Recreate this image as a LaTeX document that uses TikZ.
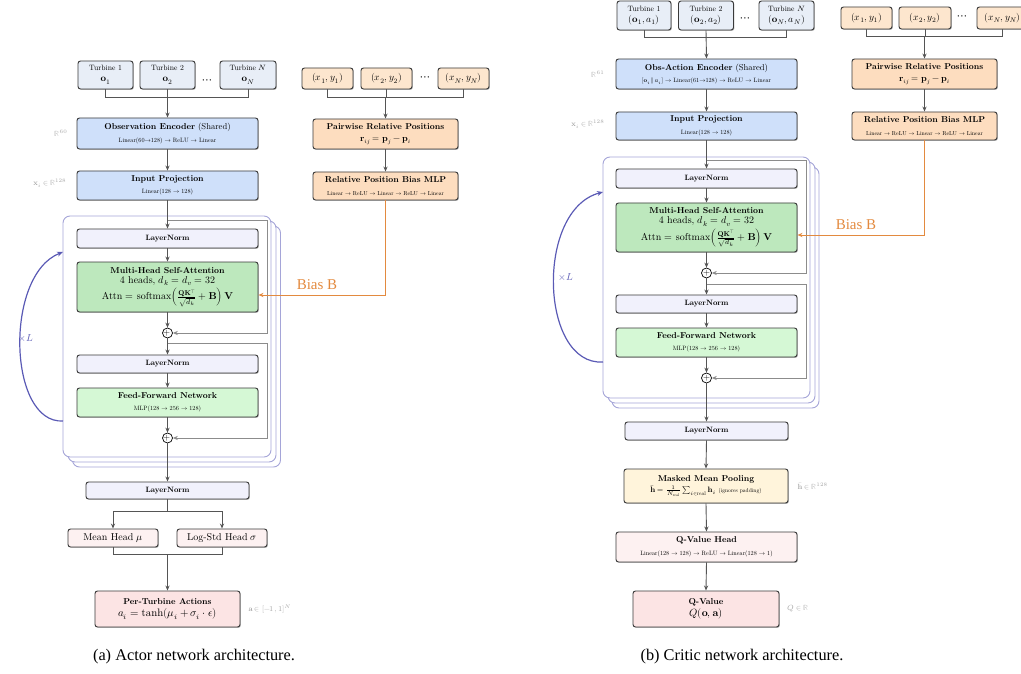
\documentclass[tikz,border=0pt]{standalone}
\usepackage{amsmath}
\usepackage{fontspec}
\usepackage{unicode-math}
\setmainfont{lmroman10-regular.otf}[BoldFont=lmroman10-bold.otf,
  ItalicFont=lmroman10-italic.otf, BoldItalicFont=lmroman10-bolditalic.otf]
\setmathfont{latinmodern-math.otf}
\newfontfamily\capfont{Liberation Serif}
\usetikzlibrary{arrows.meta,calc,shadows}

\definecolor{boxline}{HTML}{3A3A3A}
\definecolor{arrowgray}{HTML}{555555}
\definecolor{resgray}{HTML}{8C8C8C}
\definecolor{lblgray}{HTML}{A6A6A6}
\definecolor{turbfill}{HTML}{E8EEF7}
\definecolor{posfill}{HTML}{FDE6CE}
\definecolor{encfill}{HTML}{CFE0FA}
\definecolor{pairfill}{HTML}{FDDDBF}
\definecolor{lnfill}{HTML}{F1F1FC}
\definecolor{attfill}{HTML}{BDE8BD}
\definecolor{ffnfill}{HTML}{D5F8D5}
\definecolor{headfill}{HTML}{FDF1F1}
\definecolor{actfill}{HTML}{FCE4E4}
\definecolor{poolfill}{HTML}{FFF4DB}
\definecolor{framecol}{HTML}{A5A5D8}
\definecolor{loopcol}{HTML}{5A5AB5}
\definecolor{biascol}{HTML}{E38A3F}

\newcommand\fTitle{\fontsize{8.6}{10.5}\selectfont\bfseries}
\newcommand\fBody{\fontsize{10}{10.5}\selectfont}
\newcommand\fSub{\fontsize{6.2}{7}\selectfont}
\newcommand\fSubS{\fontsize{5.8}{7}\selectfont}
\newcommand\fNorm{\fontsize{7.7}{9}\selectfont\bfseries}
\newcommand\fTurb{\fontsize{7.7}{11}\selectfont}
\newcommand\fMath{\fontsize{9.6}{10}\selectfont}
\newcommand\fHead{\fontsize{10}{12}\selectfont}
\newcommand\fLbl{\fontsize{7.5}{9}\selectfont}

\begin{document}
\begin{tikzpicture}[x=1pt,y=-1pt,
  box/.style={draw=boxline, line width=0.95pt, rounded corners=2.5pt,
    inner sep=0pt, align=center, font=\fontsize{8.6}{10.5}\selectfont,
    drop shadow={shadow xshift=0.9pt, shadow yshift=-0.9pt, opacity=0.25, fill=black}},
  tbox/.style={box, fill=turbfill, minimum height=28pt, font=\fTurb},
  pbox/.style={box, fill=posfill, minimum width=51pt, minimum height=21pt, font=\fMath},
  wide/.style={minimum width=181pt},
  arr/.style={draw=arrowgray, line width=0.9pt, -{Stealth[length=5pt,width=4.2pt]}},
  link/.style={draw=arrowgray, line width=0.9pt},
  res/.style={draw=resgray, line width=0.9pt, -{Stealth[length=5pt,width=4.2pt]}},
  plus/.style={draw=black, line width=0.7pt, circle, fill=white, minimum size=10pt,
    inner sep=0pt, font=\fontsize{9}{9}\selectfont},
  stack/.style={draw=framecol, line width=0.9pt, rounded corners=7pt, fill=white},
  looparr/.style={draw=loopcol, line width=1.2pt, -{Stealth[length=6pt,width=5pt]}},
  looplbl/.style={text=loopcol, font=\fontsize{10}{10}\selectfont},
  bias/.style={draw=biascol, line width=0.9pt, -{Stealth[length=5pt,width=4.2pt]}},
  biaslbl/.style={text=biascol, font=\capfont\fontsize{15}{15}\selectfont},
  dim/.style={text=lblgray, font=\fLbl, inner sep=0pt},
  dots/.style={inner sep=0pt, font=\fontsize{12.5}{12.5}\selectfont},
  caption/.style={font=\capfont\fontsize{16.3}{19}\selectfont}
]
\useasboundingbox (0,0) rectangle (1021,674);
\clip (0,0) rectangle (1021,674);

%% ================= Actor =================
% stacked transformer blocks
\node[stack, minimum width=208pt, minimum height=241pt] (a-back2) at (176.5,346.5) {};
\node[stack, minimum width=208pt, minimum height=241pt] (a-back1) at (172,341.5) {};
\node[stack, minimum width=208pt, minimum height=241pt] (a-frame) at (167,336.5) {};

% per-turbine observations
\node[tbox, minimum width=55pt] (a-t1) at (105.5,75) {Turbine 1\\{\fMath$\mathbf{o}_1$}};
\node[tbox, minimum width=55pt] (a-t2) at (167.5,75) {Turbine 2\\{\fMath$\mathbf{o}_2$}};
\node[dots] (a-td) at (207.5,82) {$\cdots$};
\node[tbox, minimum width=56pt] (a-tN) at (248,75) {Turbine $N$\\{\fMath$\mathbf{o}_N$}};

% turbine positions
\node[pbox] (a-p1) at (327.5,78.5) {$(x_1,y_1)$};
\node[pbox] (a-p2) at (386.5,78.5) {$(x_2,y_2)$};
\node[dots] (a-pd) at (425,78.5) {$\cdots$};
\node[pbox] (a-pN) at (463.5,78.5) {$(x_N,y_N)$};

% main column
\node[box, wide, fill=encfill, minimum height=31pt] (a-enc) at (167.5,133.5)
  {{\fTitle Observation Encoder} (Shared)\\[2pt]{\fSub Linear(60$\to$128) $\to$ ReLU $\to$ Linear}};
\node[box, wide, fill=encfill, minimum height=29pt] (a-proj) at (167.5,185.5)
  {{\fTitle Input Projection}\\[2pt]{\fSub Linear(128 $\to$ 128)}};
\node[box, wide, fill=lnfill, minimum height=19pt] (a-ln1) at (167.5,238.5) {\fNorm LayerNorm};
\node[box, wide, fill=attfill, minimum height=50pt] (a-att) at (167.5,287)
  {{\fTitle Multi-Head Self-Attention}\\[-0.5pt]
   {\fBody 4 heads, $d_k = d_v = 32$}\\[1.5pt]
   {\fBody Attn $=$ softmax$\Bigl(\frac{\mathbf{Q}\mathbf{K}^{\top}}{\sqrt{d_k}} + \mathbf{B}\Bigr)\,\mathbf{V}$}};
\node[plus] (a-add1) at (167.5,333) {$+$};
\node[box, wide, fill=lnfill, minimum height=18pt] (a-ln2) at (167.5,364) {\fNorm LayerNorm};
\node[box, wide, fill=ffnfill, minimum height=29pt] (a-ffn) at (167.5,402.5)
  {{\fTitle Feed-Forward Network}\\[2pt]{\fSub MLP(128 $\to$ 256 $\to$ 128)}};
\node[plus] (a-add2) at (167.5,438) {$+$};
\node[box, fill=lnfill, minimum width=163pt, minimum height=17pt] (a-lnf) at (167.5,490.5) {\fNorm LayerNorm};
\node[box, fill=headfill, minimum width=90pt, minimum height=18pt, font=\fHead] (a-mean) at (113,538) {Mean Head $\mu$};
\node[box, fill=headfill, minimum width=90pt, minimum height=18pt, font=\fHead] (a-lstd) at (222,538) {Log-Std Head $\sigma$};
\node[box, fill=actfill, minimum width=145pt, minimum height=36pt] (a-act) at (167.5,609)
  {{\fTitle Per-Turbine Actions}\\[1.5pt]{\fontsize{10.8}{11}\selectfont $a_i = \tanh(\mu_i + \sigma_i \cdot \epsilon)$}};

% positional bias branch
\node[box, fill=pairfill, minimum width=145pt, minimum height=30pt] (a-pair) at (385.5,134)
  {{\fTitle Pairwise Relative Positions}\\[1.5pt]{\fontsize{9}{9}\selectfont $\mathbf{r}_{ij} = \mathbf{p}_j - \mathbf{p}_i$}};
\node[box, fill=pairfill, minimum width=145pt, minimum height=28pt] (a-rpb) at (385.5,186)
  {{\fTitle Relative Position Bias MLP}\\[2pt]{\fSubS Linear $\to$ ReLU $\to$ Linear $\to$ ReLU $\to$ Linear}};

% dimension annotations
\node[dim, anchor=east] (a-d1) at ([xshift=-9pt]a-enc.west) {$\mathbb{R}^{60}$};
\node[dim, anchor=east] (a-d2) at ([xshift=-10pt,yshift=2pt]a-proj.west) {$\mathbf{x}_i \in \mathbb{R}^{128}$};
\node[dim, anchor=west] (a-d3) at ([xshift=8pt]a-act.east) {$\mathbf{a} \in [-1,1]^N$};

% connectors
\draw[link] (a-t1.south) -- ++(0,8) -| (a-tN.south);
\draw[arr] (a-t2.south) -- (a-enc.north);
\draw[link] (a-p1.south) -- ++(0,8) -| (a-pN.south);
\draw[arr] (a-p2.south) -- ++(0,8) -| (a-pair.north);
\draw[arr] (a-pair.south) -- (a-rpb.north);
\draw[arr] (a-enc.south) -- (a-proj.north);
\draw[arr] (a-proj.south) -- (a-ln1.north);
\draw[arr] (a-ln1.south) -- (a-att.north);
\draw[arr] (a-att.south) -- (a-add1.north);
\draw[arr] (a-add1.south) -- (a-ln2.north);
\draw[arr] (a-ln2.south) -- (a-ffn.north);
\draw[arr] (a-ffn.south) -- (a-add2.north);
\draw[arr] (a-add2.south) -- (a-lnf.north);
\coordinate (a-r1) at (167.5,220);
\coordinate (a-r2) at (167.5,343);
\draw[res] (a-r1) -- ++(99.5,0) |- (a-add1.east);
\draw[res] (a-r2) -- ++(99.5,0) |- (a-add2.east);
\draw[arr] (a-lnf.south) -- ++(0,12) -| (a-mean.north);
\draw[arr] (a-lnf.south) -- ++(0,12) -| (a-lstd.north);
\draw[link] (a-mean.south) -- ++(0,7) -| (a-lstd.south);
\draw[arr] ($(a-mean.south)!0.5!(a-lstd.south)+(0,7)$) -- (a-act.north);
\draw[bias] (a-rpb.south) |- ([yshift=-8pt]a-att.east);
\node[biaslbl] (a-bias) at (317,285) {Bias B};

% repeated block loop
\coordinate (a-lo) at (63,421);
\coordinate (a-hi) at (63,252);
\draw[looparr] (a-lo) .. controls (8,424) and (4,275) .. (a-hi);
\node[looplbl] (a-xL) at (26,338) {$\times L$};

\node[caption] (a-cap) at (194,657) {(a) Actor network architecture.};

%% ================= Critic =================
\node[stack, minimum width=207pt, minimum height=241pt] (c-back2) at (715.5,287.5) {};
\node[stack, minimum width=207pt, minimum height=241pt] (c-back1) at (711.5,282.5) {};
\node[stack, minimum width=207pt, minimum height=241pt] (c-frame) at (706.5,277.5) {};

\node[tbox, minimum width=54pt, minimum height=29pt] (c-t1) at (644,15.5) {Turbine 1\\{\fMath$(\mathbf{o}_1, a_1)$}};
\node[tbox, minimum width=55pt, minimum height=29pt] (c-t2) at (706,15.5) {Turbine 2\\{\fMath$(\mathbf{o}_2, a_2)$}};
\node[dots] (c-td) at (745,20) {$\cdots$};
\node[tbox, minimum width=55pt, minimum height=29pt] (c-tN) at (786.5,15.5) {Turbine $N$\\{\fMath$(\mathbf{o}_N, a_N)$}};

\node[pbox, minimum height=22pt] (c-p1) at (866.5,18) {$(x_1,y_1)$};
\node[pbox, minimum height=22pt, minimum width=52pt] (c-p2) at (925,18) {$(x_2,y_2)$};
\node[dots] (c-pd) at (962,17.5) {$\cdots$};
\node[pbox, minimum height=22pt] (c-pN) at (1002.5,18) {$(x_N,y_N)$};

\node[box, wide, fill=encfill, minimum height=30pt] (c-enc) at (706.5,74)
  {{\fTitle Obs-Action Encoder} (Shared)\\[2pt]{\fSub $[\mathbf{o}_i \,\|\, a_i]$ $\to$ Linear(61$\to$128) $\to$ ReLU $\to$ Linear}};
\node[box, wide, fill=encfill, minimum height=28pt] (c-proj) at (706.5,126)
  {{\fTitle Input Projection}\\[2pt]{\fSub Linear(128 $\to$ 128)}};
\node[box, wide, fill=lnfill, minimum height=19pt] (c-ln1) at (706.5,178.5) {\fNorm LayerNorm};
\node[box, wide, fill=attfill, minimum height=49pt] (c-att) at (706.5,227.5)
  {{\fTitle Multi-Head Self-Attention}\\[-0.5pt]
   {\fBody 4 heads, $d_k = d_v = 32$}\\[1.5pt]
   {\fBody Attn $=$ softmax$\Bigl(\frac{\mathbf{Q}\mathbf{K}^{\top}}{\sqrt{d_k}} + \mathbf{B}\Bigr)\,\mathbf{V}$}};
\node[plus] (c-add1) at (706.5,273) {$+$};
\node[box, wide, fill=lnfill, minimum height=18pt] (c-ln2) at (706.5,304) {\fNorm LayerNorm};
\node[box, wide, fill=ffnfill, minimum height=29pt] (c-ffn) at (706.5,342.5)
  {{\fTitle Feed-Forward Network}\\[2pt]{\fSub MLP(128 $\to$ 256 $\to$ 128)}};
\node[plus] (c-add2) at (706.5,378) {$+$};
\node[box, fill=lnfill, minimum width=163pt, minimum height=18pt] (c-lnf) at (706.5,431) {\fNorm LayerNorm};
\node[box, fill=poolfill, minimum width=164pt, minimum height=34pt] (c-pool) at (706,486)
  {{\fTitle Masked Mean Pooling}\\[0.5pt]{\fontsize{7.8}{8}\selectfont $\bar{\mathbf{h}} = \frac{1}{N_{\mathrm{real}}}\sum_{i\in\mathrm{real}} \mathbf{h}_i$ {\fontsize{5.6}{6}\selectfont (ignores padding)}}};
\node[box, wide, fill=headfill, minimum height=30pt] (c-qhead) at (706.5,547)
  {{\fTitle Q-Value Head}\\[2pt]{\fSub Linear(128 $\to$ 128) $\to$ ReLU $\to$ Linear(128 $\to$ 1)}};
\node[box, fill=actfill, minimum width=146pt, minimum height=36pt] (c-qval) at (706,609)
  {{\fTitle Q-Value}\\[1pt]{\fontsize{10.5}{12}\selectfont $Q(\mathbf{o},\mathbf{a})$}};

\node[box, fill=pairfill, minimum width=145pt, minimum height=30pt] (c-pair) at (924.5,74)
  {{\fTitle Pairwise Relative Positions}\\[1.5pt]{\fontsize{9}{9}\selectfont $\mathbf{r}_{ij} = \mathbf{p}_j - \mathbf{p}_i$}};
\node[box, fill=pairfill, minimum width=145pt, minimum height=28pt] (c-rpb) at (924.5,126)
  {{\fTitle Relative Position Bias MLP}\\[2pt]{\fSubS Linear $\to$ ReLU $\to$ Linear $\to$ ReLU $\to$ Linear}};

\node[dim, anchor=east] (c-d1) at ([xshift=-11pt]c-enc.west) {$\mathbb{R}^{61}$};
\node[dim, anchor=east] (c-d2) at ([xshift=-11pt,yshift=2pt]c-proj.west) {$\mathbf{x}_i \in \mathbb{R}^{128}$};
\node[dim, anchor=west] (c-d3) at ([xshift=9pt]c-pool.east) {$\bar{\mathbf{h}} \in \mathbb{R}^{128}$};
\node[dim, anchor=west] (c-d4) at ([xshift=8pt]c-qval.east) {$Q \in \mathbb{R}$};

\draw[link] (c-t1.south) -- ++(0,7) -| (c-tN.south);
\draw[arr] (c-t2.south) -- (c-enc.north);
\draw[link] (c-p1.south) -- ++(0,7) -| (c-pN.south);
\draw[arr] (c-p2.south) -- ++(0,7) -| (c-pair.north);
\draw[arr] (c-pair.south) -- (c-rpb.north);
\draw[arr] (c-enc.south) -- (c-proj.north);
\draw[arr] (c-proj.south) -- (c-ln1.north);
\draw[arr] (c-ln1.south) -- (c-att.north);
\draw[arr] (c-att.south) -- (c-add1.north);
\draw[arr] (c-add1.south) -- (c-ln2.north);
\draw[arr] (c-ln2.south) -- (c-ffn.north);
\draw[arr] (c-ffn.south) -- (c-add2.north);
\draw[arr] (c-add2.south) -- (c-lnf.north);
\draw[arr] (c-lnf.south) -- (c-pool.north);
\draw[arr] (c-pool.south) -- (c-qhead.north);
\draw[arr] (c-qhead.south) -- (c-qval.north);
\coordinate (c-r1) at (706.5,160);
\coordinate (c-r2) at (706.5,284);
\draw[res] (c-r1) -- ++(99.5,0) |- (c-add1.east);
\draw[res] (c-r2) -- ++(99.5,0) |- (c-add2.east);
\draw[bias] (c-rpb.south) |- ([yshift=-7.5pt]c-att.east);
\node[biaslbl] (c-bias) at (856,225) {Bias B};

\coordinate (c-lo) at (603,362);
\coordinate (c-hi) at (603,192);
\draw[looparr] (c-lo) .. controls (540,366) and (535,210) .. (c-hi);
\node[looplbl] (c-xL) at (566,277) {$\times L$};

\node[caption] (c-cap) at (742,657) {(b) Critic network architecture.};
\end{tikzpicture}
\end{document}
